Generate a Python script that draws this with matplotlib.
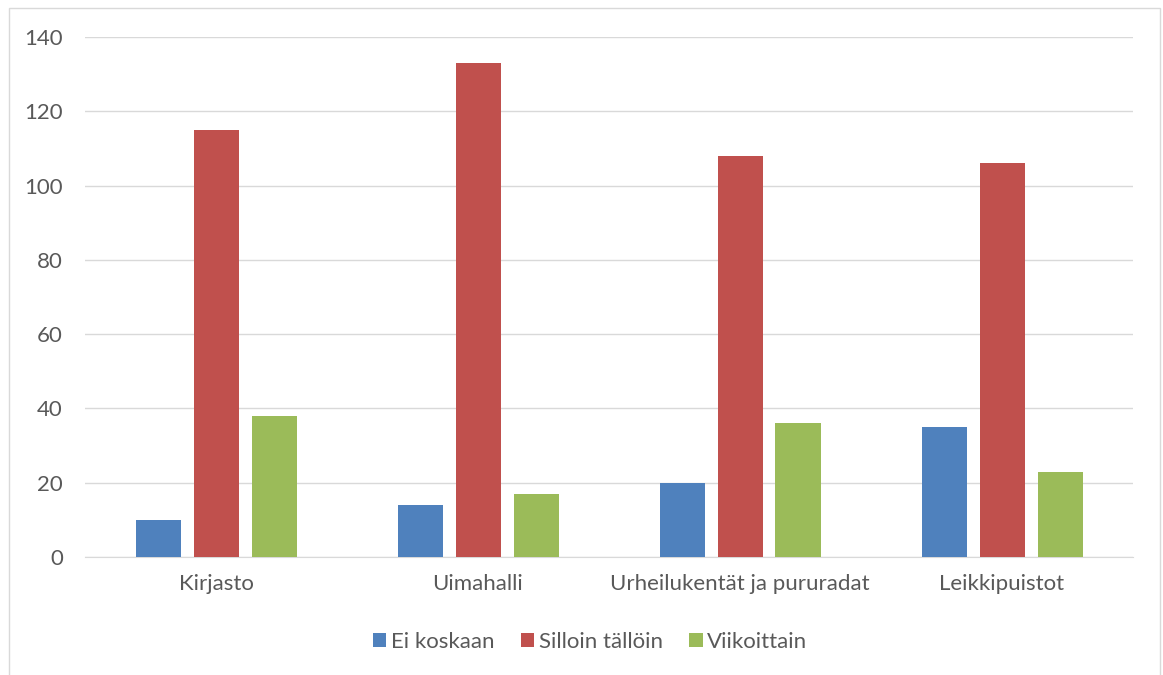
import matplotlib
matplotlib.use("Agg")
import matplotlib.pyplot as plt
from matplotlib.patches import Rectangle
import numpy as np

categories = ["Kirjasto", "Uimahalli", "Urheilukentät ja pururadat", "Leikkipuistot"]
series_names = ["Ei koskaan", "Silloin tällöin", "Viikoittain"]
ei_koskaan = [10, 14, 20, 35]
silloin_tallloin = [115, 133, 108, 106]
viikoittain = [38, 17, 36, 23]
colors = ["#4F81BD", "#C0504D", "#9BBB59"]
y_ticks = [0, 20, 40, 60, 80, 100, 120, 140]

plt.rcParams['font.family'] = ['Lato', 'DejaVu Sans']
W, H = 1163, 675
fig = plt.figure(figsize=(W / 100, H / 100), dpi=100)
ax = fig.add_axes([85 / W, (H - 557) / H, (1133 - 85) / W, (557 - 37) / H])

x = np.arange(len(categories))
width = 45 / 262
offset = 58 / 262
for i, (vals, name) in enumerate(zip([ei_koskaan, silloin_tallloin, viikoittain], series_names)):
    ax.bar(x + (i - 1) * offset, vals, width, color=colors[i], label=name, zorder=3)

ax.set_xlim(-0.5, len(categories) - 0.5)
ax.set_ylim(0, 140)
ax.set_yticks(y_ticks)
ax.set_xticks(x)
ax.set_xticklabels(categories)
ax.grid(axis='y', color='#D9D9D9', linewidth=1, zorder=0)
for s in ['top', 'right', 'left']:
    ax.spines[s].set_visible(False)
ax.spines['bottom'].set_color('#D9D9D9')
ax.tick_params(axis='both', length=0, colors='#595959', labelsize=16)
ax.tick_params(axis='y', pad=16)
ax.tick_params(axis='x', pad=12)

leg = fig.legend(loc='center', bbox_to_anchor=(590 / W, (H - 642) / H), ncol=3, frameon=False,
                 fontsize=16, handlelength=0.6, handleheight=0.6, handletextpad=0.2,
                 columnspacing=1.2, labelcolor='#595959')

fig.patches.append(Rectangle((9 / W, -0.01), (1160 - 9) / W, (H - 8) / H + 0.01,
                             transform=fig.transFigure, fill=False, edgecolor='#D9D9D9',
                             linewidth=1))
fig.savefig("out.png", dpi=100)
